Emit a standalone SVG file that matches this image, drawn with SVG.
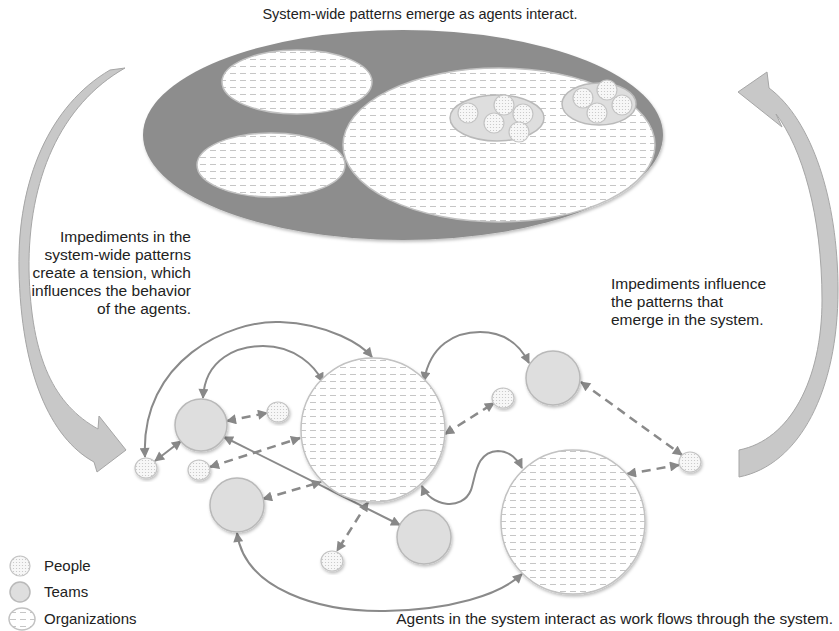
<svg xmlns="http://www.w3.org/2000/svg" width="839" height="631" viewBox="0 0 839 631">
<style>
  text { font-family: "Liberation Sans", Arial, sans-serif; font-size: 15.5px; fill: #222; }
  .title { font-size: 14.5px; }
  .legend-text { font-size: 15px; }
  .org { fill: url(#dash); stroke: #c2c2c2; stroke-width: 1.5; }
  .team { fill: #dedede; stroke: #b9b9b9; stroke-width: 1.5; }
  .person { fill: url(#dots); stroke: #c4c4c4; stroke-width: 1.2; }
  .solid { fill: none; stroke: #8a8a8a; stroke-width: 2; marker-start: url(#ah); marker-end: url(#ah); }
  .dashed { fill: none; stroke: #8a8a8a; stroke-width: 2.5; stroke-dasharray: 9 6; marker-start: url(#ah); marker-end: url(#ah); }
  .bigarrow { fill: #c8c8c8; stroke: #a6a6a6; stroke-width: 1; }
</style>
<defs>
  <pattern id="dash" width="10" height="7" patternUnits="userSpaceOnUse">
    <rect width="10" height="7" fill="#ffffff"/>
    <line x1="0" y1="3.5" x2="6" y2="3.5" stroke="#c6c6c6" stroke-width="1"/>
  </pattern>
  <pattern id="dots" width="3" height="3" patternUnits="userSpaceOnUse">
    <rect width="3" height="3" fill="#f7f7f7"/>
    <circle cx="1.5" cy="1.5" r="0.6" fill="#c4c4c4"/>
  </pattern>
  <filter id="sh" x="-20%" y="-20%" width="140%" height="140%">
    <feDropShadow dx="1" dy="2" stdDeviation="1.5" flood-color="#000" flood-opacity="0.25"/>
  </filter>
  <marker id="ah" viewBox="0 0 10 10" refX="9" refY="5" markerWidth="11" markerHeight="10" markerUnits="userSpaceOnUse" orient="auto-start-reverse">
    <path d="M0,0 L10,5 L0,10 Z" fill="#888888"/>
  </marker>
</defs>
<rect width="839" height="631" fill="#ffffff"/>

<text class="title" x="420" y="19" text-anchor="middle">System-wide patterns emerge as agents interact.</text>

<g id="system" filter="url(#sh)">
  <ellipse cx="403" cy="135" rx="260" ry="105" fill="#8d8d8d"/>
  <ellipse cx="297" cy="82" rx="75" ry="32" class="org"/>
  <ellipse cx="271" cy="165" rx="74" ry="32" class="org"/>
  <ellipse cx="499" cy="145" rx="156" ry="77" class="org"/>
  <ellipse cx="497" cy="118" rx="47" ry="23" class="team"/>
  <circle cx="468" cy="113" r="10" class="person"/>
  <circle cx="494" cy="123" r="10" class="person"/>
  <circle cx="504" cy="105" r="10" class="person"/>
  <circle cx="523" cy="114" r="10" class="person"/>
  <circle cx="519" cy="132" r="10" class="person"/>
  <ellipse cx="599" cy="104" rx="37" ry="21" class="team"/>
  <circle cx="583" cy="98" r="10" class="person"/>
  <circle cx="607" cy="90" r="10" class="person"/>
  <circle cx="622" cy="105" r="10" class="person"/>
  <circle cx="597" cy="113" r="10" class="person"/>
</g>

<g id="left-arrow">
  <path class="bigarrow" d="M 126 450 L 99 416 L 98 429 C 55 405, 31 360, 29 270 C 28 180, 60 105, 125 68 L 110 70 C 50 105, 17 180, 19 270 C 21 372, 50 438, 94 462 L 97 472 Z"/>
</g>
<g id="right-arrow">
  <path class="bigarrow" d="M 738 92 L 767 72 L 769 88 C 812 120, 838 200, 838 290 C 838 390, 800 465, 739 477 L 739 450 C 790 440, 822 380, 822 300 C 822 215, 802 148, 776 114 L 782 127 Z"/>
</g>

<g id="left-text" text-anchor="end">
  <text x="191" y="242">Impediments in the</text>
  <text x="191" y="260">system-wide patterns</text>
  <text x="191" y="278">create a tension, which</text>
  <text x="191" y="296">influences the behavior</text>
  <text x="191" y="314">of the agents.</text>
</g>
<g id="right-text">
  <text x="611" y="289">Impediments influence</text>
  <text x="611" y="307">the patterns that</text>
  <text x="611" y="325">emerge in the system.</text>
</g>

<g id="connectors">
  <path class="solid" d="M 145 457 C 140 360, 230 320, 280 322 C 330 324, 362 345, 372 357"/>
  <path class="solid" d="M 203 398 C 205 358, 238 346, 263 346 C 295 346, 315 366, 323 382"/>
  <path class="solid" d="M 424 381 C 430 345, 455 332, 480 332 C 505 332, 520 345, 529 363"/>
  <path class="solid" d="M 155 461 L 181 441"/>
  <path class="dashed" d="M 227 421 L 267 413"/>
  <path class="dashed" d="M 210 467 L 300 438"/>
  <path class="solid" d="M 224 437 L 400 525"/>
  <path class="dashed" d="M 263 499 L 321 482"/>
  <path class="dashed" d="M 368 502 L 337 551"/>
  <path class="solid" d="M 422 486 C 430 506, 462 512, 471 490 C 476 475, 476 452, 498 451 C 510 451, 518 460, 522 468"/>
  <path class="dashed" d="M 627 474 L 679 465"/>
  <path class="dashed" d="M 581 382 L 682 455"/>
  <path class="dashed" d="M 445 434 L 494 403"/>
  <path class="solid" d="M 237 533 C 245 590, 320 612, 385 611 C 450 610, 500 595, 522 574"/>
</g>

<g id="orgA" filter="url(#sh)"><circle cx="373" cy="430" r="72" class="org"/></g>
<g id="orgB" filter="url(#sh)"><circle cx="573" cy="522" r="72" class="org"/></g>
<g id="team1" filter="url(#sh)"><circle cx="201" cy="425" r="26" class="team"/></g>
<g id="team2" filter="url(#sh)"><circle cx="237" cy="505" r="27" class="team"/></g>
<g id="team3" filter="url(#sh)"><circle cx="424" cy="537" r="27" class="team"/></g>
<g id="team4" filter="url(#sh)"><circle cx="553" cy="378" r="27" class="team"/></g>
<g id="person1" filter="url(#sh)"><ellipse cx="146" cy="468" rx="11" ry="10" class="person"/></g>
<g id="person2" filter="url(#sh)"><ellipse cx="278" cy="412" rx="11" ry="10" class="person"/></g>
<g id="person3" filter="url(#sh)"><ellipse cx="199" cy="470" rx="11" ry="10" class="person"/></g>
<g id="person4" filter="url(#sh)"><ellipse cx="503" cy="398" rx="11" ry="10" class="person"/></g>
<g id="person5" filter="url(#sh)"><ellipse cx="690" cy="462" rx="11" ry="10" class="person"/></g>
<g id="person6" filter="url(#sh)"><ellipse cx="332" cy="561" rx="11" ry="10" class="person"/></g>

<text x="833" y="624" text-anchor="end">Agents in the system interact as work flows through the system.</text>

<g id="legend">
  <circle cx="20" cy="566" r="10" class="person"/>
  <text class="legend-text" x="44" y="571">People</text>
  <circle cx="20" cy="592" r="10" class="team"/>
  <text class="legend-text" x="44" y="597">Teams</text>
  <ellipse cx="22" cy="619" rx="13" ry="11" class="org"/>
  <text class="legend-text" x="44" y="624">Organizations</text>
</g>
</svg>
